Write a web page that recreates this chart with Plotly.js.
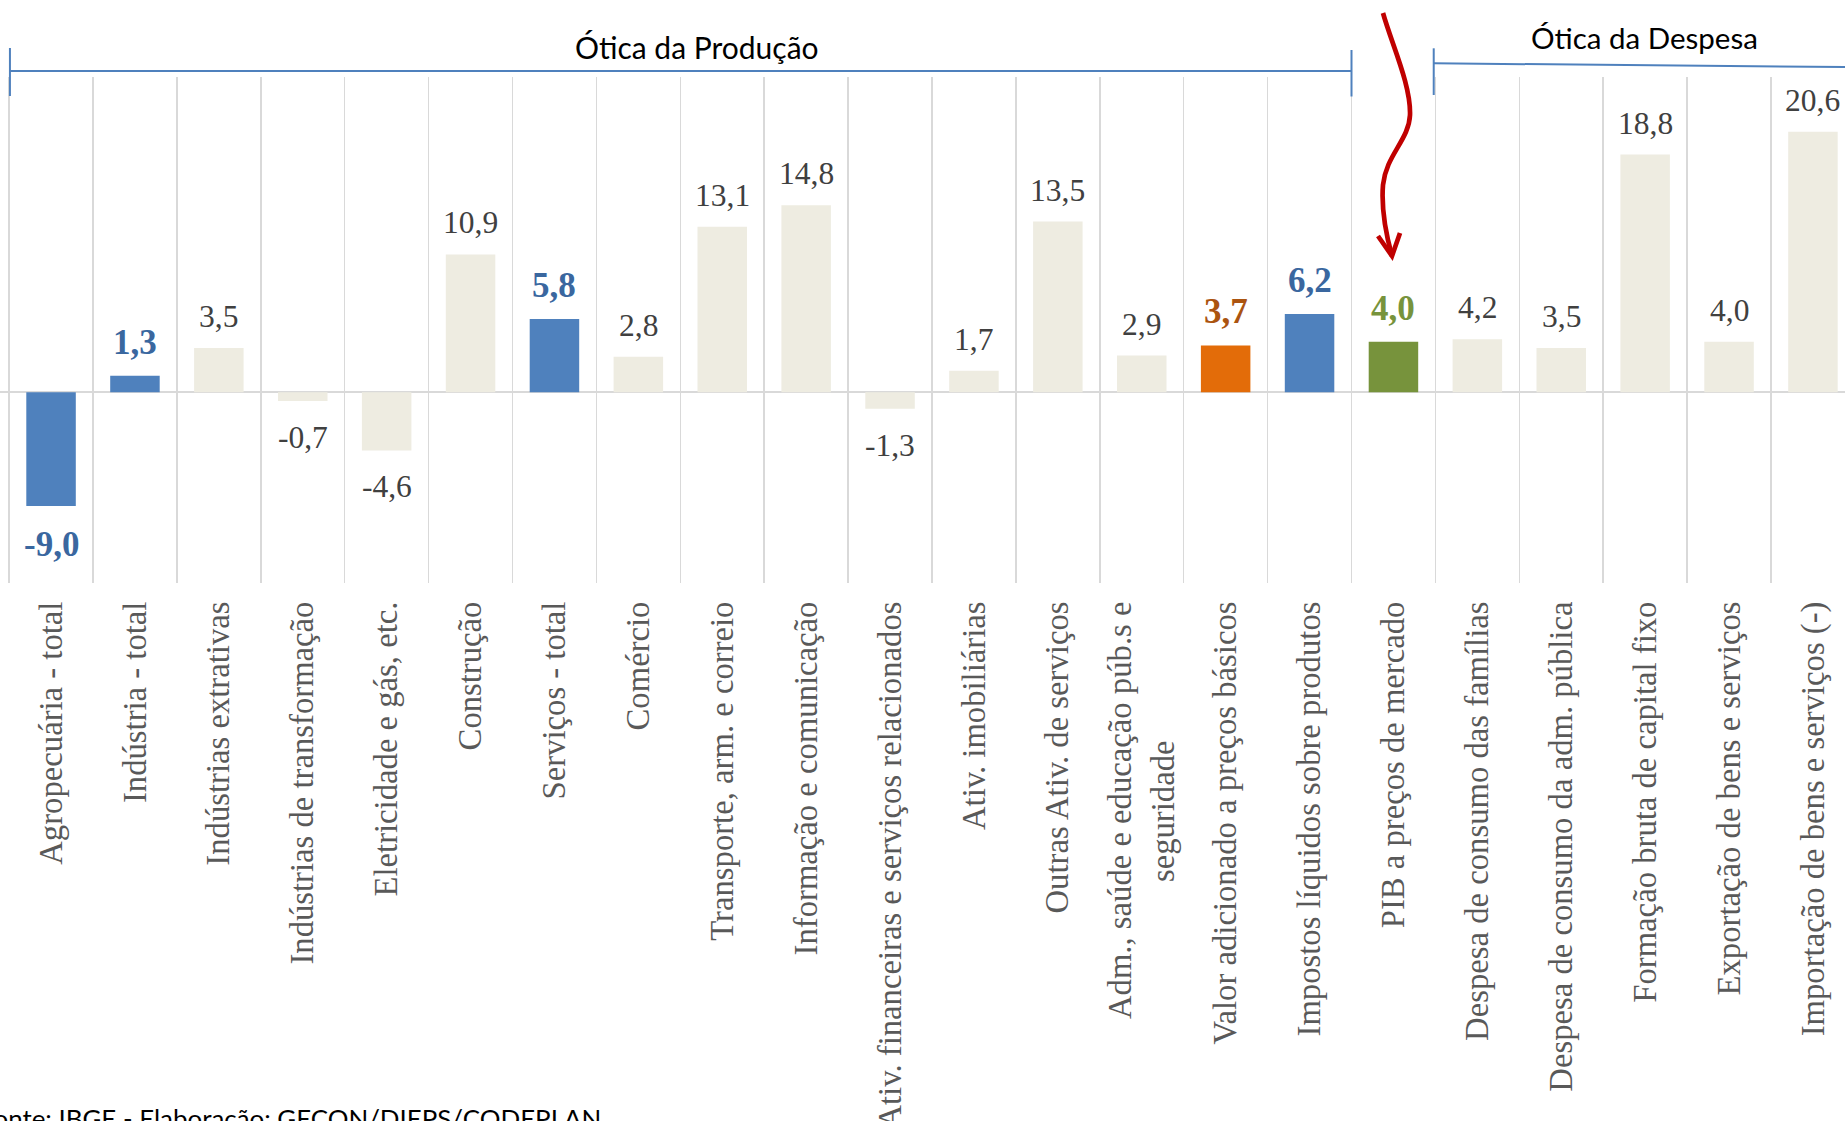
<!DOCTYPE html>
<html>
<head>
<meta charset="utf-8">
<script src="https://cdn.plot.ly/plotly-3.0.1.min.js"></script>
<style>
  html, body { margin: 0; padding: 0; background: #ffffff; overflow: hidden; }
  #chart { width: 1845px; height: 1121px; }
</style>
</head>
<body>
<div id="chart"></div>
<script>
// ---------------- data ----------------
const categories = [
  "Agropecuária - total",
  "Indústria - total",
  "Indústrias extrativas",
  "Indústrias de transformação",
  "Eletricidade e gás, etc.",
  "Construção",
  "Serviços - total",
  "Comércio",
  "Transporte, arm. e correio",
  "Informação e comunicação",
  "Ativ. financeiras e serviços relacionados",
  "Ativ. imobiliárias",
  "Outras Ativ. de serviços",
  "Adm., saúde e educação púb.s e<br>seguridade",
  "Valor adicionado a preços básicos",
  "Impostos líquidos sobre produtos",
  "PIB a preços de mercado",
  "Despesa de consumo das famílias",
  "Despesa de consumo da adm. pública",
  "Formação bruta de capital fixo",
  "Exportação de bens e serviços",
  "Importação de bens e serviços (-)"
];
const values = [-9.0, 1.3, 3.5, -0.7, -4.6, 10.9, 5.8, 2.8, 13.1, 14.8, -1.3, 1.7, 13.5, 2.9, 3.7, 6.2, 4.0, 4.2, 3.5, 18.8, 4.0, 20.6];
// highlight group of each bar
const groups = ["total", "total", "item", "item", "item", "item", "total", "item", "item", "item", "item",
                "item", "item", "item", "va", "total", "pib", "item", "item", "item", "item", "item"];
const sectionLabels = ["Ótica da Produção", "Ótica da Despesa"];
const sourceNote = "Fonte: IBGE - Elaboração: GECON/DIEPS/CODEPLAN";

// ---------------- styles ----------------
const barColor = { total: "#4f81bd", item: "#eeece1", va: "#e36c09", pib: "#77933c" };
const labelColor = { total: "#3a679f", item: "#404040", va: "#ab5410", pib: "#77933c" };

const W = 1845, H = 1121;
const M = { l: 0, r: 0, t: 77, b: 538 };
const plotH = H - M.t - M.b;
const px2x = (px) => px / W;
const px2y = (py) => (H - M.b - py) / plotH;

const fmt = (v) => v.toFixed(1).replace(".", ",");

// tick labels: second line of a wrapped label is centred under the first (as in the source)
const NBSP = "\u00A0";
const tickText = categories.map(c => {
  const parts = c.split("<br>");
  if (parts.length < 2) return c;
  return parts[0] + "<br>" + parts[1] + NBSP.repeat(17);
});

const trace = {
  type: "bar",
  x: categories,
  y: values,
  marker: { color: groups.map(g => barColor[g]), line: { width: 0 } },
  hoverinfo: "skip"
};

const annotations = values.map((v, i) => {
  const g = groups[i];
  const bold = g !== "item";
  return {
    x: categories[i], y: v, xref: "x", yref: "y",
    text: bold ? "<b>" + fmt(v) + "</b>" : fmt(v),
    showarrow: false,
    xanchor: "center",
    yanchor: v >= 0 ? "bottom" : "top",
    yshift: v >= 0 ? 12 : -17,
    font: { family: "Liberation Serif, serif", size: bold ? 35 : 31.5, color: labelColor[g] }
  };
});

annotations.push({
  x: px2x(697), y: px2y(47), xref: "paper", yref: "paper",
  text: sectionLabels[0], showarrow: false, xanchor: "center", yanchor: "middle",
  font: { family: "Lato, sans-serif", size: 30, color: "#000000" }
});
annotations.push({
  x: px2x(1644), y: px2y(37.4), xref: "paper", yref: "paper",
  text: sectionLabels[1], showarrow: false, xanchor: "center", yanchor: "middle",
  font: { family: "Lato, sans-serif", size: 29.5, color: "#000000" }
});
annotations.push({
  x: px2x(603), y: px2y(1100), xref: "paper", yref: "paper",
  text: sourceNote, showarrow: false, xanchor: "right", yanchor: "top",
  font: { family: "Lato, sans-serif", size: 25.9, color: "#000000" }
});

// arrow path in pixel coordinates -> paper
function pathFrom(cmds) {
  return cmds.map(c => {
    if (typeof c === "string") return c;
    return px2x(c[0]).toFixed(5) + "," + px2y(c[1]).toFixed(5);
  }).join(" ");
}
const arrowBody = pathFrom(["M", [1383, 13], "C", [1392, 45], [1411, 85], [1410, 115],
                            "C", [1409, 140], [1386, 155], [1383, 185],
                            "C", [1381, 210], [1387, 238], [1392, 256]]);
const arrowHead = pathFrom(["M", [1378, 236], "L", [1392, 256], "L", [1400, 233]]);

const bracketColor = "#4f81bd";
const shapes = [
  // Ótica da Produção bracket
  { type: "line", xref: "x", yref: "paper", x0: -0.5, x1: 15.5, y0: px2y(71), y1: px2y(71), line: { color: bracketColor, width: 2 } },
  { type: "line", xref: "x", yref: "paper", x0: -0.49, x1: -0.49, y0: px2y(48), y1: px2y(96), line: { color: bracketColor, width: 2 } },
  { type: "line", xref: "x", yref: "paper", x0: 15.5, x1: 15.5, y0: px2y(50), y1: px2y(96.5), line: { color: bracketColor, width: 2 } },
  // Ótica da Despesa bracket
  { type: "line", xref: "x", yref: "paper", x0: 16.48, x1: 21.39, y0: px2y(63.3), y1: px2y(67), line: { color: bracketColor, width: 2 } },
  { type: "line", xref: "x", yref: "paper", x0: 16.48, x1: 16.48, y0: px2y(48.3), y1: px2y(95), line: { color: bracketColor, width: 2 } },
  // red arrow
  { type: "path", xref: "paper", yref: "paper", path: arrowBody, line: { color: "#c00000", width: 4.7 } },
  { type: "path", xref: "paper", yref: "paper", path: arrowHead, line: { color: "#c00000", width: 4.7 } }
];

const layout = {
  width: W, height: H,
  margin: M,
  paper_bgcolor: "#ffffff",
  plot_bgcolor: "#ffffff",
  showlegend: false,
  bargap: 0.41,
  xaxis: {
    type: "category",
    range: [-0.6085, 21.382],
    tickson: "boundaries",
    tickmode: "array",
    tickvals: categories,
    ticktext: tickText,
    showgrid: true,
    gridcolor: "#d9d9d9",
    gridwidth: 1.5,
    ticks: "",
    tickangle: -90,
    ticklabelstandoff: 11,
    tickfont: { family: "Liberation Serif, serif", size: 32.7, color: "#595959" },
    showline: false,
    zeroline: false,
    fixedrange: true
  },
  yaxis: {
    range: [-15.09, 24.94],
    showgrid: false,
    showticklabels: false,
    ticks: "",
    zeroline: true,
    zerolinecolor: "#d9d9d9",
    zerolinewidth: 2,
    showline: false,
    fixedrange: true
  },
  annotations: annotations,
  shapes: shapes
};

Plotly.newPlot("chart", [trace], layout, { staticPlot: true, displayModeBar: false });
</script>
</body>
</html>
